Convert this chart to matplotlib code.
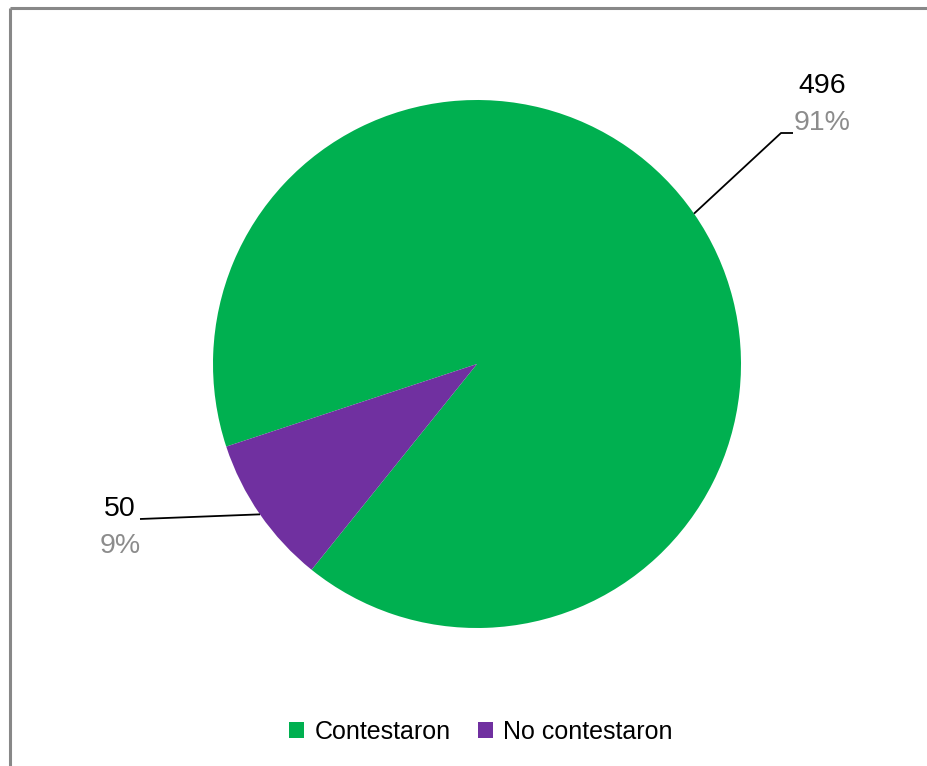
import numpy as np
import matplotlib.pyplot as plt
from matplotlib.font_manager import fontManager

labels = ['Contestaron', 'No contestaron']
values = [496, 50]
colors = ['#00b050', '#7030a0']

names = {f.name for f in fontManager.ttflist}
fam = ['Liberation Sans Narrow', 'Liberation Sans', 'DejaVu Sans']
fam = [f for f in fam if f in names] or ['DejaVu Sans']
narrow = fam[0] == 'Liberation Sans Narrow'
plt.rcParams['font.family'] = fam

lab_fs = 23 if narrow else 20.5
leg_fs = 22 if narrow else 18

W, H = 928, 766
fig = plt.figure(figsize=(W / 100, H / 100), dpi=100)
ax = fig.add_axes([0, 0, 1, 1])

cx, cy, r = 477, H - 364, 264
wedges, _ = ax.pie(values, colors=colors, startangle=231.2, center=(cx, cy),
                   radius=r, frame=True)
ax.set_xlim(0, W)
ax.set_ylim(0, H)
ax.axis('off')

total = sum(values)
pcts = [round(v / total * 100) for v in values]

# label anchor points (pixels from top-left)
text_pos = [(822, 86), (120, 509)]
elbows = [[(781, 133), (793, 133)], [(140, 519)]]

for w, v, p, (tx, ty), el in zip(wedges, values, pcts, text_pos, elbows):
    mid = np.deg2rad((w.theta1 + w.theta2) / 2)
    sx, sy = cx + r * np.cos(mid), cy + r * np.sin(mid)
    xs = [sx] + [e[0] for e in el]
    ys = [sy] + [H - e[1] for e in el]
    ax.plot(xs, ys, color='black', lw=1.3, solid_capstyle='butt')
    ax.text(tx, H - ty, str(v), ha='center', va='center', fontsize=lab_fs, color='black')
    ax.text(tx, H - ty - 37, f'{p}%', ha='center', va='center', fontsize=lab_fs, color='#8c8c8c')

# frame
ax.plot([10, 10], [0, H - 8], color='#888888', lw=2.2, solid_capstyle='butt')
ax.plot([10, W], [H - 8, H - 8], color='#888888', lw=2.2, solid_capstyle='butt')

leg = ax.legend(wedges, labels, loc='center', bbox_to_anchor=(481 / W, 1 - 732 / H),
                ncol=2, frameon=False, fontsize=leg_fs, handlelength=0.6, handleheight=0.6,
                handletextpad=0.4, columnspacing=1.1)

fig.savefig('out.png', dpi=100)
